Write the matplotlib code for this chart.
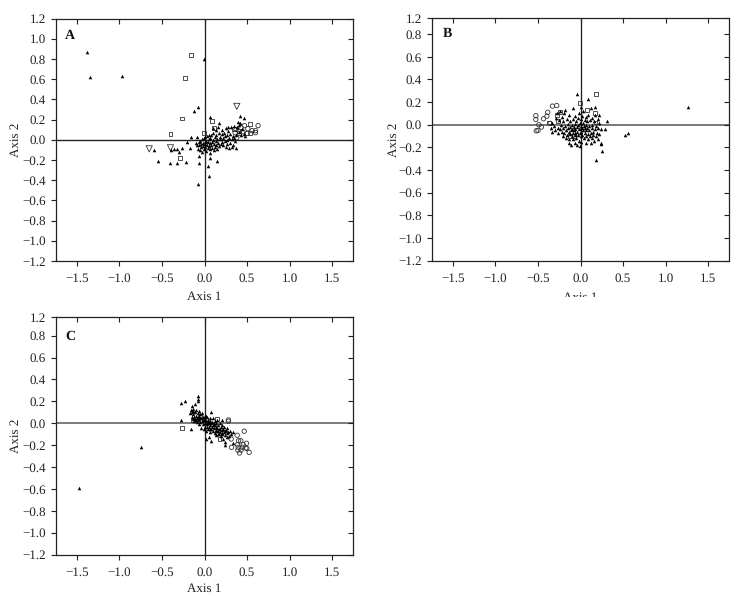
import numpy as np
import matplotlib
matplotlib.use("Agg")
from matplotlib import markers
from matplotlib import pyplot as plt
from matplotlib.transforms import Bbox

plt.rcParams["font.family"] = ["Liberation Serif", "DejaVu Serif"]
plt.rcParams["font.size"] = 9.2
plt.rcParams["text.hinting"] = "no_hinting"
plt.rcParams["text.hinting_factor"] = 1

W, H = 738, 596

# values: (axis 1, axis 2)
a_tri = [(-1.38,0.87),(-1.35,0.62),(-0.97,0.63),(-0.01,0.80),(-0.08,0.32),(-0.125,0.28),(0.07,0.23),(0.175,0.17),
    (0.42,0.24),(0.47,0.22),(0.39,0.175),(-0.155,0.03),(-0.09,0.03),(-0.21,-0.02),(-0.59,-0.10),(-0.55,-0.215),
    (-0.41,-0.23),(-0.32,-0.23),(-0.215,-0.22),(-0.065,-0.23),(0.04,-0.26),(0.145,-0.21),(0.05,-0.36),(-0.08,-0.44),
    (-0.07,-0.165),(0.07,-0.18),(-0.39,-0.105),(-0.36,-0.09),(-0.32,-0.095),(-0.30,-0.12),(-0.27,-0.08),(-0.17,-0.08),
    (-0.10,-0.03),(-0.09,-0.05),(-0.08,-0.09),(-0.07,-0.02),(-0.06,-0.05),(-0.05,-0.10),(-0.05,-0.01),(-0.04,-0.04),
    (-0.04,-0.07),(-0.03,0.01),(-0.03,-0.12),(-0.02,-0.03),(-0.02,-0.06),(-0.01,-0.09),(-0.01,0.02),(0.00,-0.04),
    (0.00,-0.02),(0.01,-0.07),(0.01,0.03),(0.02,-0.11),(0.02,-0.01),(0.03,-0.05),(0.03,0.04),(0.04,-0.08),
    (0.04,-0.02),(0.05,0.01),(0.05,-0.06),(0.05,0.05),(0.06,-0.03),(0.06,-0.09),(0.07,-0.13),(0.07,0.02),
    (0.08,-0.05),(0.08,0.05),(0.09,-0.02),(0.09,-0.08),(0.10,0.00),(0.10,0.07),(0.11,-0.04),(0.11,-0.10),
    (0.12,0.03),(0.12,-0.07),(0.13,-0.01),(0.13,0.10),(0.14,-0.05),(0.14,0.05),(0.15,-0.09),(0.15,0.01),
    (0.16,-0.03),(0.17,0.07),(0.17,-0.06),(0.18,0.01),(0.18,0.03),(0.19,-0.04),(0.20,0.06),(0.20,-0.02),
    (0.21,0.10),(0.22,0.02),(0.22,-0.05),(0.23,0.07),(0.24,-0.01),(0.24,0.04),(0.25,-0.07),(0.25,0.12),
    (0.26,0.00),(0.27,0.05),(0.27,-0.04),(0.28,0.09),(0.29,-0.08),(0.29,0.02),(0.30,-0.03),(0.30,0.06),
    (0.31,0.13),(0.32,-0.07),(0.32,0.01),(0.33,0.04),(0.34,-0.05),(0.35,0.02),(0.36,-0.01),(0.37,-0.08),
    (0.37,0.05),(0.38,0.13),(0.40,0.15),(0.40,0.08),(0.43,0.05),(0.44,0.11),(0.46,0.06),(0.48,0.04),
    (0.42,0.17),(0.35,0.14),(0.28,0.13),(0.16,0.13),(0.10,0.12)]
a_sq = [(-0.16,0.84),(-0.23,0.61),(-0.27,0.21),(-0.40,0.06),(-0.29,-0.18),(0.09,0.19),(0.11,0.12),(-0.01,0.07),
    (0.35,0.11),(0.40,0.09),(0.53,0.155),(0.53,0.07),(0.50,0.07),(0.41,0.07)]
a_circ = [(0.63,0.14),(0.60,0.07),(0.60,0.09),(0.56,0.09),(0.51,0.11),(0.47,0.14),(0.43,0.12),(0.37,0.10),
    (0.36,0.07),(0.45,0.08),(0.38,0.02)]
a_down = [(0.38,0.33),(-0.65,-0.09),(-0.40,-0.08)]

b_tri = [(1.27,0.155),(0.557,-0.075),(0.52,-0.09),(0.18,-0.315),(0.25,-0.23),(0.243,-0.17),(0.243,-0.16),(-0.04,0.27),
    (0.086,0.226),(0.17,0.16),(0.12,0.15),(-0.09,0.15),(0.01,0.16),(0.31,0.035),(0.294,-0.04),(0.24,-0.04),(0.216,0.09),
    (-0.35,-0.03),(-0.34,-0.06),(-0.33,0.02),(-0.31,-0.01),(-0.30,-0.05),(-0.29,0.06),(-0.28,0.10),(-0.27,-0.03),
    (-0.26,-0.07),(-0.25,0.04),(-0.24,0.12),(-0.24,-0.04),(-0.23,0.00),(-0.22,0.07),(-0.22,-0.06),(-0.21,-0.10),
    (-0.20,0.03),(-0.20,-0.03),(-0.19,0.10),(-0.19,-0.07),(-0.18,0.13),(-0.18,-0.01),(-0.17,-0.05),(-0.17,-0.12),
    (-0.16,0.05),(-0.16,-0.09),(-0.15,0.01),(-0.15,-0.03),(-0.14,-0.13),(-0.14,0.09),(-0.13,-0.06),(-0.13,-0.16),
    (-0.12,-0.02),(-0.12,0.03),(-0.12,-0.08),(-0.11,-0.05),(-0.11,-0.18),(-0.10,-0.10),(-0.10,0.00),(-0.10,-0.04),
    (-0.09,0.05),(-0.09,-0.07),(-0.09,-0.13),(-0.08,-0.02),(-0.08,-0.05),(-0.07,0.08),(-0.07,-0.09),(-0.07,-0.16),
    (-0.06,0.01),(-0.06,-0.04),(-0.06,-0.07),(-0.05,-0.12),(-0.05,0.03),(-0.04,-0.02),(-0.04,-0.06),(-0.04,-0.18),
    (-0.03,0.06),(-0.03,-0.09),(-0.03,0.00),(-0.02,-0.04),(-0.02,-0.14),(-0.02,0.10),(-0.01,-0.07),(-0.01,0.02),
    (-0.01,-0.19),(0.00,-0.03),(0.00,-0.10),(0.00,0.05),(0.01,-0.01),(0.01,-0.06),(0.01,-0.15),(0.02,0.08),
    (0.02,-0.03),(0.02,-0.09),(0.03,0.02),(0.03,-0.05),(0.03,0.12),(0.04,-0.12),(0.04,-0.01),(0.05,-0.07),
    (0.05,0.04),(0.05,-0.03),(0.06,-0.16),(0.06,0.07),(0.07,-0.05),(0.07,-0.10),(0.07,0.00),(0.08,0.03),
    (0.08,-0.03),(0.09,-0.08),(0.09,-0.13),(0.09,0.09),(0.10,-0.01),(0.10,-0.05),(0.11,0.04),(0.11,-0.10),
    (0.12,-0.07),(0.12,-0.16),(0.13,-0.03),(0.13,0.06),(0.14,-0.12),(0.14,0.00),(0.15,-0.06),(0.15,-0.09),
    (0.16,0.03),(0.16,-0.14),(0.17,-0.04),(0.17,0.09),(0.18,-0.10),(0.18,-0.01),(0.19,-0.07),(0.20,0.05),
    (0.20,-0.13),(0.21,-0.03),(0.22,0.02),(0.22,-0.08)]
b_sq = [(0.184,0.274),(-0.01,0.194),(0.08,0.13),(0.17,0.105),(0.176,0.02),(-0.24,0.11),(-0.28,0.085),(-0.37,0.02),
    (-0.12,-0.10),(-0.08,-0.10),(-0.26,0.03)]
b_circ = [(-0.525,0.08),(-0.525,0.047),(-0.33,0.165),(-0.28,0.17),(-0.385,0.11),(-0.435,0.053),(-0.395,0.076),
    (-0.49,0.0),(-0.46,-0.02),(-0.5,-0.05),(-0.52,-0.053),(-0.357,0.012)]

c_tri = [(-0.745,-0.22),(-1.475,-0.59),(-0.28,0.183),(-0.23,0.2),(-0.075,0.25),(-0.075,0.223),(-0.08,0.205),(-0.11,0.177),
    (-0.15,0.153),(-0.28,0.025),(-0.153,-0.05),(0.012,-0.144),(0.055,-0.128),(0.075,-0.165),(0.243,-0.2),(0.33,-0.18),
    (-0.17,0.09),(-0.16,0.12),(-0.15,0.06),(-0.15,0.10),(-0.14,0.13),(-0.14,0.04),(-0.13,0.08),(-0.13,0.11),
    (-0.12,0.06),(-0.12,0.02),(-0.11,0.10),(-0.11,0.04),(-0.10,0.07),(-0.10,0.12),(-0.09,0.01),(-0.09,0.05),
    (-0.08,0.09),(-0.08,0.03),(-0.07,0.06),(-0.07,-0.01),(-0.06,0.11),(-0.06,0.04),(-0.05,0.08),(-0.05,0.01),
    (-0.04,0.05),(-0.04,-0.04),(-0.03,0.09),(-0.03,0.02),(-0.02,0.06),(-0.02,-0.01),(-0.01,0.03),(-0.01,-0.05),
    (0.00,0.07),(0.00,0.00),(0.01,0.04),(0.01,-0.03),(0.02,-0.07),(0.02,0.02),(0.03,0.06),(0.03,-0.01),
    (0.04,0.03),(0.04,-0.05),(0.05,0.00),(0.05,-0.03),(0.06,0.05),(0.06,-0.08),(0.07,0.02),(0.07,-0.02),
    (0.08,-0.05),(0.08,0.10),(0.09,0.01),(0.09,-0.03),(0.10,0.05),(0.10,-0.07),(0.11,-0.01),(0.11,-0.04),
    (0.12,0.02),(0.12,-0.09),(0.13,-0.03),(0.13,-0.06),(0.14,0.00),(0.14,-0.11),(0.15,-0.04),(0.15,0.03),
    (0.16,-0.07),(0.16,-0.02),(0.17,-0.10),(0.17,-0.05),(0.18,0.00),(0.18,-0.08),(0.19,-0.03),(0.19,-0.12),
    (0.20,-0.06),(0.20,0.03),(0.21,-0.10),(0.21,-0.02),(0.22,-0.05),(0.22,-0.14),(0.23,-0.08),(0.23,-0.03),
    (0.24,-0.11),(0.24,-0.17),(0.25,-0.06),(0.26,-0.09),(0.26,-0.13),(0.27,-0.04),(0.28,-0.08),(0.29,-0.12),
    (0.30,-0.07),(0.31,-0.10),(0.33,-0.08),(0.00,0.03),(0.02,0.07),(-0.02,0.03),(0.06,0.01),(0.10,-0.02),
    (0.14,-0.07),(0.18,-0.05),(0.12,-0.02),(0.08,0.00),(0.04,0.01),(-0.06,0.07),(-0.10,0.03),(0.16,-0.10),
    (0.20,-0.09),(0.24,-0.07),(0.07,-0.05),(0.03,-0.03)]
c_sq = [(-0.263,-0.043),(0.176,-0.147),(-0.137,0.025),(-0.05,0.055),(0.145,0.04)]
c_circ = [(0.282,0.03),(0.467,-0.073),(0.384,-0.11),(0.314,-0.144),(0.4,-0.16),(0.427,-0.16),(0.494,-0.183),
    (0.455,-0.196),(0.388,-0.196),(0.318,-0.22),(0.396,-0.22),(0.443,-0.22),(0.486,-0.226),(0.498,-0.23),
    (0.525,-0.266),(0.412,-0.272),(0.392,-0.245),(0.43,-0.245),(0.28,0.018)]

x_ticks = [-1.5, -1.0, -0.5, 0.0, 0.5, 1.0, 1.5]
y_values = [0.8, 0.6, 0.4, 0.2, 0.0, -0.2, -0.4, -0.6, -0.8, -1.0, -1.2]


def fmt(v):
    return f"{v:.1f}".replace("-", "\u2212")


def panel(box, letter, letter_xy, ytop, y_ticks, y_labels, tri, squares, circles, down=None,
          zero_h="#222222", hw=1.0, label_dx=34, xpad=4.6):
    left, top, right, bottom = box
    ax = fig.add_axes([left / W, 1 - bottom / H, (right - left) / W, (bottom - top) / H])
    ax.set_xlim(-1.75, 1.75)
    ax.set_ylim(-1.2, ytop)
    ax.axhline(0, color=zero_h, lw=hw, zorder=1)
    ax.axvline(0, color="#222222", lw=0.95, zorder=1)

    t = np.array(tri)
    ax.scatter(t[:, 0], t[:, 1], marker="^", s=6.5, color="black", linewidths=0, zorder=3)
    s = np.array(squares)
    ax.scatter(s[:, 0], s[:, 1], marker="s", s=8, facecolors="none", edgecolors="#333333", linewidths=0.6, zorder=2)
    c = np.array(circles)
    ax.scatter(c[:, 0], c[:, 1], marker="o", s=10, facecolors="none", edgecolors="#333333", linewidths=0.6, zorder=2)
    if down is not None:
        d = np.array(down)
        ax.scatter(d[:, 0], d[:, 1], marker="v", s=20, facecolors="none", edgecolors="#333333", linewidths=0.6, zorder=2)

    ax.set_xticks(x_ticks, [fmt(v) for v in x_ticks])
    ax.set_yticks(y_ticks, y_labels)
    ax.tick_params(axis="both", length=3.4, width=0.8, color="#222222", labelcolor="#222222",
                   top=True, right=True)
    ax.tick_params(axis="x", pad=5)
    ax.tick_params(axis="y", pad=3.6)
    # bottom and left ticks stay outside, top and right ones point inwards
    for tick in ax.xaxis.get_major_ticks():
        tick.tick2line.set_marker(markers.TICKDOWN)
    for tick in ax.yaxis.get_major_ticks():
        tick.tick2line.set_marker(markers.TICKLEFT)
    for sp in ax.spines.values():
        sp.set_linewidth(0.9)
        sp.set_color("#222222")

    ax.set_xlabel("Axis 1", labelpad=xpad, color="#222222")
    ax.set_ylabel("Axis 2", color="#222222")
    ax.yaxis.set_label_coords(-label_dx / (right - left), 0.5)
    ax.text((letter_xy[0] - left) / (right - left), (bottom - letter_xy[1]) / (bottom - top), letter,
            transform=ax.transAxes, fontweight="bold", fontsize=10, ha="center", va="center", color="#111111")
    return ax


fig = plt.figure(figsize=(W / 100, H / 100), dpi=100)

ytick_a = [1.2, 1.0] + y_values
panel((55.7, 18.5, 353.3, 261), "A", (70, 36), 1.2, ytick_a, [fmt(v) for v in ytick_a], a_tri, a_sq, a_circ, a_down)

# B and C: upper part of the axis is cut short, the top tick still carries 1.2
b_top = 0.94
ax_b = panel((431.7, 18.3, 729.3, 260.7), "B", (447, 34), b_top, [b_top] + y_values, ["1.2"] + [fmt(v) for v in y_values],
             b_tri, b_sq, b_circ, zero_h="#777777", hw=1.4, label_dx=32, xpad=5.5)
# the lower half of this label is missing in the reference
ax_b.xaxis.label.set_clip_box(Bbox.from_extents(0, H - 296.5, W, H))
ax_b.xaxis.label.set_clip_on(True)

c_top = 0.967
panel((55.7, 317.3, 353.3, 554.7), "C", (70, 336), c_top, [c_top] + y_values, ["1.2"] + [fmt(v) for v in y_values],
      c_tri, c_sq, c_circ, zero_h="#666666", hw=1.2, xpad=3.6)

fig.savefig("out.png", dpi=100)
